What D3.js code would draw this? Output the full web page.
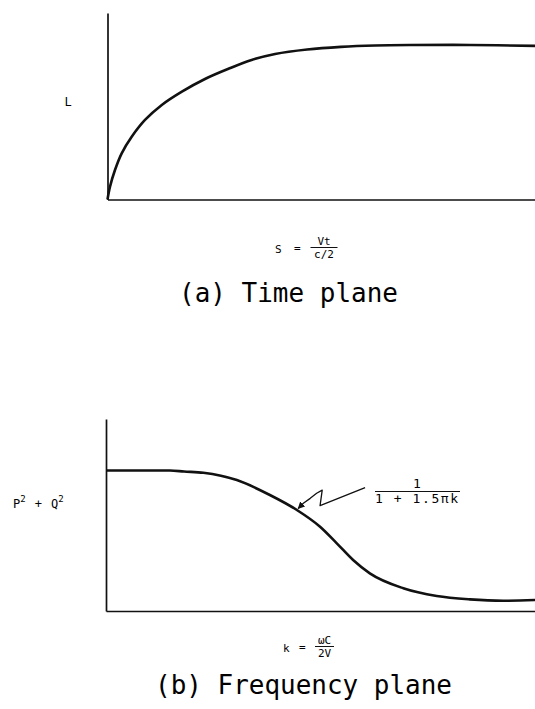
<!DOCTYPE html>
<html>
<head>
<meta charset="utf-8">
<script src="https://cdn.jsdelivr.net/npm/d3@7"></script>
<style>
  body { margin: 0; background: #fff; }
  text { font-family: "DejaVu Sans Mono", monospace; fill: #000; }
</style>
</head>
<body>
<script>
// (a) time plane: L versus S
const timeS = [0, 0.585, 1.75, 3.32, 5.66, 8.77, 12.7, 17.4, 22.8, 28.3, 33.7, 39.2, 46.7, 54.6, 62.6, 70.8, 84.8, 100];
const timeL = [0, 0.083, 0.191, 0.299, 0.406, 0.515, 0.612, 0.698, 0.780, 0.846, 0.903, 0.942, 0.971, 0.988, 0.997, 1.0, 1.0, 0.994];

// (b) frequency plane: P^2 + Q^2 versus k
const freqK = [0, 7.9, 14.9, 18.2, 22.7, 30.5, 38.2, 44.5, 49.9, 53.8, 57.6, 61.5, 69.3, 77.1, 84.8, 92.6, 100];
const freqP = [1.0, 1.0, 1.0, 0.993, 0.984, 0.932, 0.826, 0.719, 0.6, 0.482, 0.363, 0.268, 0.162, 0.107, 0.083, 0.073, 0.078];

// annotation pointer, in (k, P) units
const arrowK = [60.4, 49.9, 50.4, 49.1, 47.6, 46.0, 44.8];
const arrowP = [0.878, 0.750, 0.861, 0.838, 0.802, 0.767, 0.730];

const width = 535, height = 709;

const svg = d3.select("body").append("svg")
              .attr("width", width)
              .attr("height", height);

svg.append("defs").append("marker")
   .attr("id", "head")
   .attr("viewBox", "0 0 10 10")
   .attr("refX", 9).attr("refY", 5)
   .attr("markerWidth", 7).attr("markerHeight", 7)
   .attr("markerUnits", "userSpaceOnUse")
   .attr("orient", "auto")
   .append("path")
   .attr("d", "M0,0 L10,5 L0,10 z")
   .attr("fill", "#111");

// ---- top panel ----
const xTime = d3.scaleLinear().domain([0, 100]).range([107.5, 535]);
const yTime = d3.scaleLinear().domain([0, 1.207]).range([199.5, 13]);

// ---- bottom panel ----
const xFreq = d3.scaleLinear().domain([0, 100]).range([106, 535]);
const yFreq = d3.scaleLinear().domain([0, 1.367]).range([611, 419]);

function drawAxes(x, y) {
  const gx = svg.append("g")
     .attr("transform", `translate(0,${y(0)})`)
     .call(d3.axisBottom(x).ticks(0).tickSizeOuter(0));
  const gy = svg.append("g")
     .attr("transform", `translate(${x(0)},0)`)
     .call(d3.axisLeft(y).ticks(0).tickSizeOuter(0));
  [gx, gy].forEach(g => g.select(".domain")
     .attr("stroke", "#111")
     .attr("stroke-width", 1.7));
}

drawAxes(xTime, yTime);
drawAxes(xFreq, yFreq);

const lineTime = d3.line()
   .x(i => xTime(timeS[i]))
   .y(i => yTime(timeL[i]))
   .curve(d3.curveCatmullRom.alpha(0.5));

svg.append("path")
   .attr("d", lineTime(d3.range(timeS.length)))
   .attr("fill", "none")
   .attr("stroke", "#111")
   .attr("stroke-width", 2.6);

const lineFreq = d3.line()
   .x(i => xFreq(freqK[i]))
   .y(i => yFreq(freqP[i]))
   .curve(d3.curveMonotoneX);

svg.append("path")
   .attr("d", lineFreq(d3.range(freqK.length)))
   .attr("fill", "none")
   .attr("stroke", "#111")
   .attr("stroke-width", 2.6);

// zigzag pointer
svg.append("path")
   .attr("d", d3.line()
       .x(i => xFreq(arrowK[i]))
       .y(i => yFreq(arrowP[i]))
       .curve(d3.curveLinear)(d3.range(arrowK.length)))
   .attr("fill", "none")
   .attr("stroke", "#111")
   .attr("stroke-width", 1.3)
   .attr("stroke-linejoin", "round")
   .attr("marker-end", "url(#head)");

// ---- labels ----
svg.append("text").attr("x", 68).attr("y", 106)
   .attr("text-anchor", "middle").attr("font-size", 12).text("L");

function fraction(cx, yLine, num, den, size, w) {
  svg.append("text").attr("x", cx).attr("y", yLine - 3)
     .attr("text-anchor", "middle").attr("font-size", size).text(num);
  svg.append("line")
     .attr("x1", cx - w / 2).attr("x2", cx + w / 2)
     .attr("y1", yLine).attr("y2", yLine)
     .attr("stroke", "#111").attr("stroke-width", 1);
  svg.append("text").attr("x", cx).attr("y", yLine + size - 1)
     .attr("text-anchor", "middle").attr("font-size", size).text(den);
}

// S = Vt / (c/2)
svg.append("text").attr("x", 275).attr("y", 253)
   .attr("font-size", 11).text("S");
svg.append("text").attr("x", 294).attr("y", 252)
   .attr("font-size", 11).text("=");
fraction(324, 247.5, "Vt", "c/2", 11, 27);

svg.append("text").attr("x", 179).attr("y", 302)
   .attr("font-size", 26)
   .attr("textLength", 219).attr("lengthAdjust", "spacingAndGlyphs")
   .text("(a) Time plane");

// P^2 + Q^2
const pq = svg.append("text").attr("x", 13).attr("y", 508).attr("font-size", 12);
pq.append("tspan").text("P");
pq.append("tspan").attr("font-size", 9).attr("dy", -6).text("2");
pq.append("tspan").attr("dy", 6).attr("dx", 9).text("+");
pq.append("tspan").attr("dx", 9).text("Q");
pq.append("tspan").attr("font-size", 9).attr("dy", -6).text("2");

// 1 / (1 + 1.5 pi k)
svg.append("text").attr("x", 417).attr("y", 488)
   .attr("text-anchor", "middle").attr("font-size", 13).text("1");
svg.append("line")
   .attr("x1", 375).attr("x2", 460).attr("y1", 491.5).attr("y2", 491.5)
   .attr("stroke", "#111").attr("stroke-width", 1);
svg.append("text").attr("x", 375).attr("y", 503)
   .attr("font-size", 13)
   .attr("textLength", 83).attr("lengthAdjust", "spacing")
   .text("1 + 1.5\u03c0k");

// k = omega C / 2V
svg.append("text").attr("x", 283).attr("y", 652)
   .attr("font-size", 11).text("k");
svg.append("text").attr("x", 299).attr("y", 651)
   .attr("font-size", 11).text("=");
fraction(324.5, 646.5, "\u03c9C", "2V", 11, 19);

svg.append("text").attr("x", 155).attr("y", 694)
   .attr("font-size", 26)
   .attr("textLength", 297).attr("lengthAdjust", "spacingAndGlyphs")
   .text("(b) Frequency plane");
</script>
</body>
</html>
